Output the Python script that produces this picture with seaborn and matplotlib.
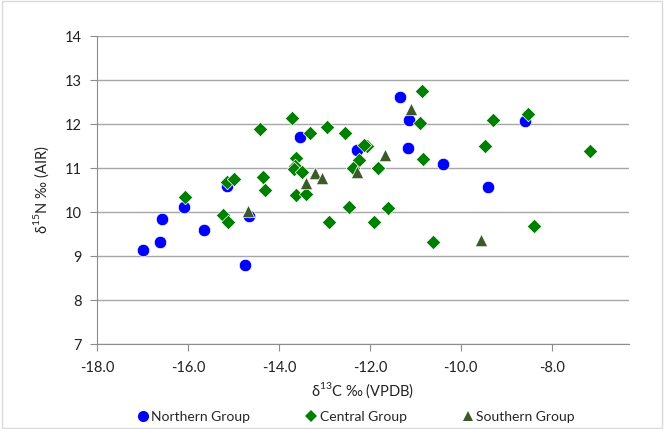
import matplotlib
matplotlib.use("Agg")
import matplotlib.pyplot as plt
import seaborn as sns
import pandas as pd
from matplotlib.lines import Line2D
from matplotlib.patches import Rectangle

# ---- data ----
north_c = [-16.99, -16.62, -16.56, -16.09, -15.64, -15.15, -14.66, -14.75,
           -13.53, -12.28, -11.33, -11.13, -11.15, -10.38, -9.39, -8.58]
north_n = [9.14, 9.31, 9.84, 10.12, 9.58, 10.58, 9.90, 8.80,
           11.71, 11.40, 12.62, 12.08, 11.45, 11.10, 10.56, 12.07]

central_c = [-14.42, -16.06, -15.14, -14.99, -15.23, -15.12, -14.36, -14.30,
             -13.72, -13.32, -12.95, -12.55, -13.63, -13.64, -13.67, -13.49,
             -13.62, -13.41, -12.90, -12.46, -11.91, -11.60, -12.23, -12.36,
             -12.06, -12.12, -11.83, -10.86, -10.89, -10.84, -9.28, -9.46,
             -8.53, -10.60, -8.40, -7.15]
central_n = [11.89, 10.35, 10.68, 10.74, 9.93, 9.78, 10.79, 10.50,
             12.13, 11.80, 11.94, 11.79, 11.23, 11.04, 10.98, 10.91,
             10.38, 10.41, 9.78, 10.12, 9.78, 10.09, 11.19, 11.01,
             11.50, 11.53, 11.00, 12.76, 12.03, 11.20, 12.08, 11.49,
             12.22, 9.31, 9.68, 11.39]

south_c = [-14.68, -13.21, -13.06, -13.40, -12.28, -11.66, -11.10, -9.56]
south_n = [10.02, 10.88, 10.77, 10.67, 10.92, 11.29, 12.33, 9.37]

groups = ["Northern Group", "Central Group", "Southern Group"]
colors = ["#0000FF", "#008000", "#3B5A28"]
markers = ["o", "D", "^"]
sizes = [80, 55, 80]

df = pd.concat([
    pd.DataFrame({"d13C": north_c, "d15N": north_n, "group": groups[0]}),
    pd.DataFrame({"d13C": central_c, "d15N": central_n, "group": groups[1]}),
    pd.DataFrame({"d13C": south_c, "d15N": south_n, "group": groups[2]}),
], ignore_index=True)

sns.set_style("white")
plt.rcParams["font.family"] = ["Lato", "DejaVu Sans"]
plt.rcParams["mathtext.fontset"] = "custom"
plt.rcParams["mathtext.rm"] = "Lato"

fig = plt.figure(figsize=(6.64, 4.29), dpi=100)
ax = fig.add_axes([97/664, 1-344/429, (629-97)/664, (344-36)/429])

for g, c, m, s in zip(groups, colors, markers, sizes):
    sub = df[df["group"] == g]
    sns.scatterplot(data=sub, x="d13C", y="d15N", color=c, marker=m, s=s,
                    edgecolor="white", linewidth=0.5, ax=ax, legend=False, zorder=3)

ax.set_xlim(-18, -6.3)
ax.set_ylim(7, 14)
ax.set_xticks([-18, -16, -14, -12, -10, -8])
ax.set_xticklabels(["-18.0", "-16.0", "-14.0", "-12.0", "-10.0", "-8.0"])
ax.set_yticks(range(7, 15))
ax.yaxis.grid(True, color="#A6A6A6", linewidth=1)
ax.xaxis.grid(False)
ax.set_axisbelow(True)
for sp in ["top", "right"]:
    ax.spines[sp].set_visible(False)
for sp in ["left", "bottom"]:
    ax.spines[sp].set_color("#8C8C8C")
ax.tick_params(axis="both", direction="out", length=5, color="#8C8C8C",
               labelsize=10.5, labelcolor="#222222", left=True, bottom=True)
ax.tick_params(axis="x", pad=7.5)
ax.tick_params(axis="y", pad=6)
ax.set_xlabel(r"δ$^{13}$C ‰ (VPDB)", fontsize=10.5, color="#222222", labelpad=4)
ax.set_ylabel(r"δ$^{15}$N ‰ (AIR)", fontsize=10.5, color="#222222", labelpad=10)

handles = [Line2D([], [], linestyle="none", marker=m, color=c, markersize=ms,
                  markeredgewidth=0)
           for c, m, ms in zip(colors, markers, [8, 6, 7])]
fig.legend(handles, groups, loc="center", bbox_to_anchor=(356/664, 1-417/429),
           ncol=3, frameon=False, fontsize=10, columnspacing=4.0,
           handletextpad=0.2, handlelength=0.8, borderpad=0, borderaxespad=0)

fig.patches.append(Rectangle((0.003, 0.003), 0.994, 0.994, transform=fig.transFigure,
                             fill=False, edgecolor="#D9D9D9", linewidth=1))

fig.savefig("out.png", dpi=100)
